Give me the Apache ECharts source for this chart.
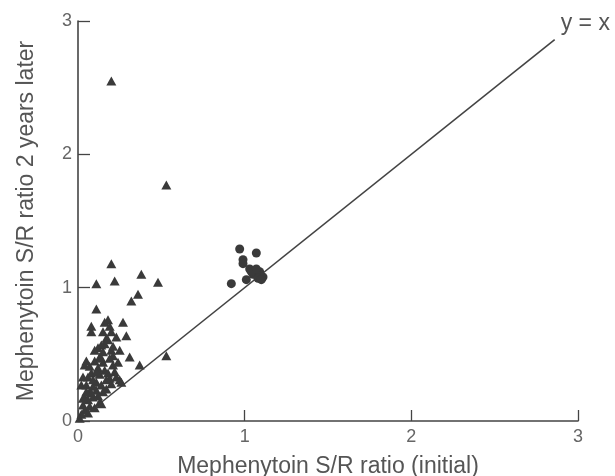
<!DOCTYPE html>
<html>
<head>
<meta charset="utf-8">
<script src="https://cdn.jsdelivr.net/npm/echarts@6/dist/echarts.min.js"></script>
<style>html,body{margin:0;padding:0;background:#fff}#c{width:615px;height:476px}</style>
</head>
<body>
<div id="c"></div>
<script>
var xTicks = [0, 1, 2, 3];
var yTicks = [0, 1, 2, 3];
var triangleX = [0.20,0.53,0.20,0.11,0.22,0.38,0.48,0.36,0.32,0.11,0.08,0.08,0.18,0.16,0.19,0.27,0.20,0.15,0.29,0.23,0.17,0.14,0.12,0.21,0.20,0.10,0.15,0.31,0.53,0.21,0.13,0.04,0.07,0.15,0.21,0.37,0.16,0.08,0.03,0.23,0.25,0.19,0.17,0.11,0.02,0.05,0.14,0.09,0.26,0.07,0.11,0.15,0.04,0.09,0.06,0.13,0.14,0.03,0.07,0.04,0.02,0.01,0.25,
  0.05,0.10,0.12,0.06,0.09,0.13,0.18,0.20,0.17,0.12,0.08,0.05,0.10,0.06,0.03,0.11,0.14,0.16,0.18,0.22,0.24,0.19];
var triangleY = [2.55,1.77,1.18,1.03,1.05,1.10,1.04,0.95,0.90,0.84,0.71,0.67,0.76,0.74,0.71,0.74,0.67,0.67,0.64,0.63,0.62,0.57,0.55,0.56,0.53,0.53,0.52,0.48,0.49,0.49,0.48,0.42,0.41,0.44,0.42,0.42,0.38,0.36,0.33,0.33,0.31,0.32,0.31,0.29,0.27,0.27,0.27,0.26,0.29,0.22,0.23,0.22,0.18,0.18,0.16,0.14,0.13,0.12,0.11,0.08,0.05,0.02,0.53,
  0.45,0.45,0.40,0.33,0.31,0.35,0.36,0.28,0.24,0.19,0.21,0.22,0.10,0.06,0.17,0.37,0.47,0.58,0.61,0.37,0.44,0.47];
var circleX = [0.97,1.07,0.99,0.99,0.92,1.03,1.01,1.05,1.09,1.11,1.08,1.10,1.04,1.07];
var circleY = [1.29,1.26,1.21,1.18,1.03,1.14,1.06,1.10,1.12,1.08,1.07,1.06,1.12,1.14];
var identityLine = [0, 2.86];

function pairs(xs, ys){ return xs.map(function(v,i){ return [v, ys[i]]; }); }

var textColor = '#555';
var markColor = '#3a3a3a';
var font = 'Liberation Sans, Arial, sans-serif';

var chart = echarts.init(document.getElementById('c'));
chart.setOption({
  animation: false,
  backgroundColor: '#fff',
  grid: { left: 78, right: 37, top: 21, bottom: 55, containLabel: false, outerBoundsMode: 'none' },
  xAxis: {
    type: 'value', min: 0, max: 3, interval: 1,
    name: 'Mephenytoin S/R ratio (initial)', nameLocation: 'middle', nameGap: 34,
    nameTextStyle: { fontFamily: font, fontSize: 23, color: textColor },
    axisLine: { show: true, lineStyle: { color: '#444', width: 1.6 } },
    axisTick: { show: true, inside: true, length: 11, lineStyle: { color: '#444', width: 1.3 } },
    axisLabel: { fontFamily: font, fontSize: 18, color: '#666', margin: 7 },
    splitLine: { show: false }
  },
  yAxis: {
    type: 'value', min: 0, max: 3, interval: 1,
    name: 'Mephenytoin S/R ratio 2 years later', nameLocation: 'middle', nameGap: 40,
    nameTextStyle: { fontFamily: font, fontSize: 23, color: textColor },
    axisLine: { show: true, lineStyle: { color: '#444', width: 1.6 } },
    axisTick: { show: true, inside: true, length: 12, lineStyle: { color: '#444', width: 1.3 } },
    axisLabel: { fontFamily: font, fontSize: 18, color: '#666', margin: 6 },
    splitLine: { show: false }
  },
  series: [
    {
      type: 'line',
      data: [[identityLine[0], identityLine[0]], [identityLine[1], identityLine[1]]],
      symbol: 'none',
      lineStyle: { color: '#444', width: 1.6 },
      endLabel: { show: true, formatter: 'y = x', fontFamily: font, fontSize: 23, color: textColor, offset: [-2, -16] },
      z: 1
    },
    {
      type: 'scatter',
      data: pairs(triangleX, triangleY),
      symbol: 'triangle', symbolSize: [10, 9],
      itemStyle: { color: markColor, opacity: 1 },
      z: 3
    },
    {
      type: 'scatter',
      data: pairs(circleX, circleY),
      symbol: 'circle', symbolSize: 9,
      itemStyle: { color: markColor, opacity: 1 },
      z: 3
    }
  ]
});
</script>
</body>
</html>
